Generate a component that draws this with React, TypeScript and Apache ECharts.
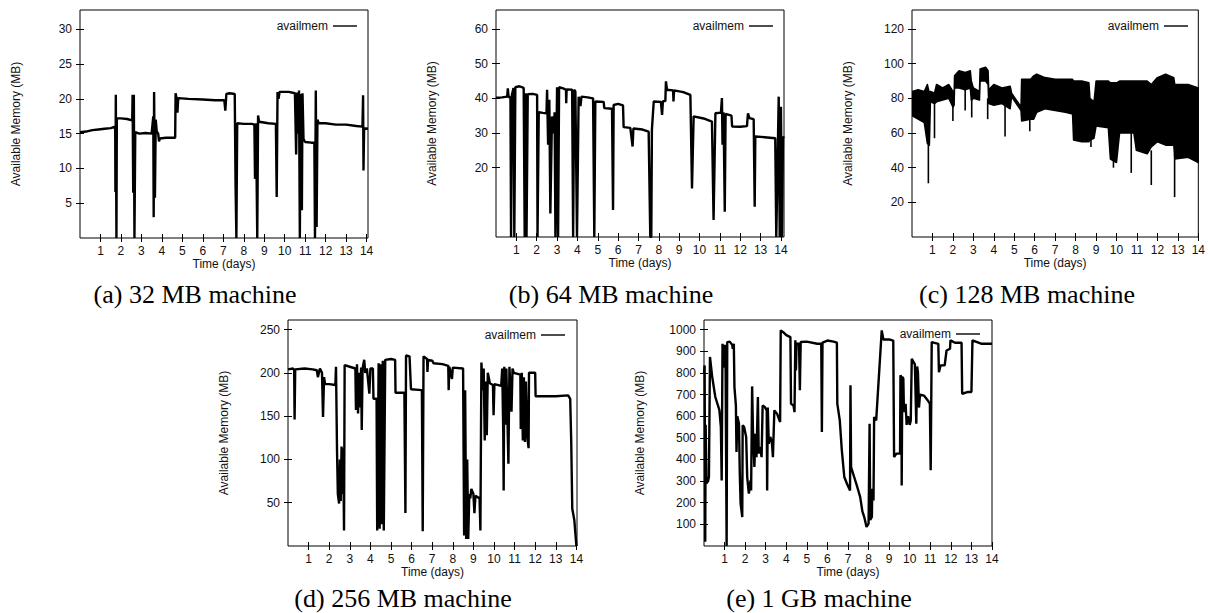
import { useEffect, useRef } from 'react';
import * as echarts from 'echarts';

// ---------- tick labels & captions ----------
const DAY_TICKS = [1, 2, 3, 4, 5, 6, 7, 8, 9, 10, 11, 12, 13, 14];
const Y_TICKS_32 = [5, 10, 15, 20, 25, 30];
const Y_TICKS_64 = [20, 30, 40, 50, 60];
const Y_TICKS_128 = [20, 40, 60, 80, 100, 120];
const Y_TICKS_256 = [50, 100, 150, 200, 250];
const Y_TICKS_1G = [100, 200, 300, 400, 500, 600, 700, 800, 900, 1000];
const CAPTIONS = ['(a) 32 MB machine', '(b) 64 MB machine', '(c) 128 MB machine', '(d) 256 MB machine', '(e) 1 GB machine'];
const SERIES_NAME = 'availmem';
const X_TITLE = 'Time (days)';
const Y_TITLE = 'Available Memory (MB)';

// ---------- data: [day, available MB] ----------
const MEM_32MB: number[][] = [
  [0, 15.2], [0.3, 15.3], [0.6, 15.5], [0.9, 15.6], [1.2, 15.7], [1.5, 15.8], [1.72, 16.0], [1.73, 6.6], [1.75, 20.6], [1.78, 0],
  [1.8, 17.2], [2.0, 17.2], [2.3, 17.1], [2.55, 16.9], [2.57, 20.6], [2.6, 6.5], [2.63, 20.6], [2.66, 0], [2.7, 15.2], [2.9, 15.0],
  [3.2, 15.1], [3.5, 15.0], [3.58, 17.5], [3.6, 3.0], [3.62, 21.0], [3.66, 5.8], [3.7, 17.0], [3.75, 15.3], [3.82, 15.0], [3.86, 13.9],
  [3.9, 14.3], [4.2, 14.4], [4.5, 14.4], [4.65, 14.4], [4.67, 20.8], [4.72, 20.1], [4.76, 18.0], [4.8, 20.1], [5.3, 20.0], [6.0, 19.9],
  [6.6, 19.8], [7.05, 19.8], [7.1, 18.3], [7.15, 20.7], [7.3, 20.8], [7.56, 20.7], [7.6, 7.6], [7.64, 0], [7.68, 16.5], [8.0, 16.4],
  [8.4, 16.4], [8.52, 16.3], [8.55, 8.5], [8.6, 16.5], [8.66, 0], [8.7, 17.6], [8.75, 16.7], [9.2, 16.5], [9.57, 16.4], [9.61, 5.9],
  [9.65, 21.0], [9.7, 20.0], [9.75, 21.0], [10.2, 21.0], [10.5, 20.8], [10.56, 12.0], [10.6, 20.9], [10.65, 15.0], [10.7, 21.2], [10.74, 0],
  [10.78, 20.7], [10.84, 4.0], [10.87, 20.8], [10.92, 14.2], [11.0, 13.8], [11.3, 13.7], [11.45, 13.7], [11.48, 0], [11.52, 21.2], [11.56, 1.6],
  [11.6, 17.0], [11.66, 16.5], [12.0, 16.5], [12.5, 16.3], [13.0, 16.3], [13.5, 16.1], [13.8, 16.0], [13.83, 20.5], [13.85, 9.7], [13.88, 15.8],
  [14.07, 15.7],
];

const MEM_64MB: number[][] = [
  [0, 40.2], [0.3, 40.3], [0.55, 40.5], [0.58, 42.9], [0.62, 40.4], [0.71, 40.3], [0.74, 0], [0.78, 41], [0.86, 43], [0.9, 0],
  [0.95, 43.2], [1.15, 43.5], [1.36, 43.0], [1.41, 0], [1.46, 41.5], [1.5, 0], [1.56, 41.2], [1.8, 41.3], [2.02, 41.0], [2.04, 0],
  [2.07, 0], [2.1, 36.0], [2.3, 35.8], [2.48, 35.7], [2.51, 42.5], [2.56, 26.6], [2.62, 39.6], [2.67, 6.8], [2.75, 34.8], [2.84, 29.9],
  [2.88, 36], [2.92, 0], [3.0, 43.2], [3.05, 0], [3.1, 43.2], [3.3, 42.9], [3.44, 42.5], [3.45, 38.6], [3.47, 42.6], [3.74, 42.5],
  [3.79, 0], [3.84, 42.5], [3.9, 42.0], [3.98, 0], [4.06, 40.5], [4.15, 37.8], [4.2, 40.5], [4.5, 40.3], [4.77, 40.0], [4.83, 0],
  [4.88, 39.1], [5.29, 39.0], [5.32, 37.2], [5.7, 37.0], [5.75, 7.8], [5.78, 38.1], [6.0, 38.4], [6.24, 38.0], [6.27, 31.7], [6.6, 31.5],
  [6.71, 26.1], [6.75, 31.3], [7.2, 31.0], [7.5, 30.4], [7.58, 0], [7.63, 0], [7.66, 30.9], [7.75, 39.1], [8.1, 39.0], [8.16, 35.2],
  [8.2, 39.2], [8.32, 39.2], [8.35, 44.9], [8.4, 42.5], [8.7, 42.3], [8.72, 39.1], [8.75, 42.3], [9.2, 41.8], [9.55, 41.0], [9.63, 14.0],
  [9.71, 34.8], [10.2, 34.2], [10.61, 33.3], [10.69, 4.9], [10.78, 35.7], [11.05, 35.9], [11.1, 40.1], [11.13, 26.6], [11.18, 36], [11.24, 7.3],
  [11.28, 35.5], [11.57, 35.0], [11.6, 31.9], [12.0, 31.8], [12.33, 32.0], [12.38, 35.7], [12.45, 34.3], [12.66, 34.0], [12.71, 8.7], [12.74, 29.0],
  [13.2, 28.8], [13.72, 28.5], [13.77, 0], [13.83, 20], [13.89, 40.5], [13.94, 0], [14.0, 37.6], [14.05, 0], [14.1, 29.0], [14.15, 28.5],
];

// [day, lowest MB, highest MB] envelope of the dense trace
const MEM_128MB_BAND: number[][] = [
  [0.0, 70, 84], [0.3, 68, 85], [0.6, 66, 84], [0.75, 54, 88], [0.85, 53, 83], [0.9, 78, 84], [1.1, 77, 83], [1.2, 78, 88],
  [1.5, 79, 86], [1.8, 80, 88], [2.0, 75, 84], [2.06, 76, 83], [2.08, 86, 93], [2.3, 86, 96], [2.6, 85, 95], [2.85, 86, 96],
  [2.9, 79, 90], [3.0, 80, 86], [3.3, 79, 84], [3.33, 90, 97], [3.6, 90, 98], [3.72, 88, 96], [3.75, 77, 85], [4.0, 76, 88],
  [4.4, 77, 86], [4.8, 74, 87], [4.87, 81, 83], [5.33, 73, 75], [5.36, 67, 91], [5.8, 68, 91], [5.95, 68, 93], [6.1, 72, 94],
  [6.5, 74, 92], [7.0, 73, 91], [7.5, 72, 91], [7.85, 71, 91], [7.9, 56, 90], [8.3, 55, 90], [8.65, 55, 89], [8.7, 56, 80],
  [8.9, 57, 78], [9.0, 64, 90], [9.6, 63, 90], [9.7, 45, 89], [10.0, 43, 89], [10.15, 60, 90], [10.85, 60, 90], [10.97, 50, 90],
  [11.5, 48, 90], [11.7, 52, 88], [12.0, 55, 92], [12.4, 53, 94], [12.8, 53, 92], [12.85, 45, 88], [13.5, 46, 88], [14.0, 43, 86],
];
// [day, spike bottom MB, spike top MB]
const MEM_128MB_SPIKES: number[][] = [
  [0.8, 31, 70], [1.1, 57, 78], [2.0, 67, 78], [2.6, 73, 86], [2.92, 69, 80], [3.7, 68, 80], [4.55, 58, 76], [5.4, 68, 75],
  [5.76, 61, 70], [8.75, 52, 58], [9.85, 40, 48], [10.72, 37, 62], [11.7, 30, 50], [12.84, 23, 48],
];

const MEM_256MB: number[][] = [
  [0, 204], [0.25, 205], [0.3, 203], [0.32, 146], [0.35, 204], [0.8, 205], [1.2, 204], [1.4, 203], [1.45, 195], [1.55, 205],
  [1.65, 200], [1.7, 149], [1.75, 195], [1.8, 187], [2.0, 187], [2.3, 186], [2.33, 207], [2.38, 110], [2.42, 60], [2.48, 49],
  [2.52, 100], [2.56, 52], [2.6, 115], [2.65, 60], [2.68, 113], [2.72, 18], [2.75, 209], [3.0, 207], [3.27, 205], [3.3, 157],
  [3.35, 210], [3.4, 153], [3.45, 200], [3.5, 160], [3.55, 206], [3.58, 134], [3.62, 205], [3.7, 215], [3.75, 200], [3.83, 205],
  [3.95, 176], [4.0, 205], [4.12, 205], [4.15, 170], [4.3, 170], [4.33, 18], [4.4, 211], [4.45, 20], [4.5, 210], [4.55, 25],
  [4.6, 214], [4.65, 18], [4.72, 215], [5.0, 216], [5.2, 215], [5.22, 177], [5.65, 177], [5.7, 38], [5.73, 220], [5.9, 219],
  [5.97, 181], [6.5, 180], [6.54, 17], [6.58, 219], [6.75, 216], [6.77, 201], [6.8, 215], [7.0, 214], [7.07, 211], [7.5, 210],
  [7.78, 208], [7.8, 180], [7.83, 207], [7.96, 193], [8.0, 206], [8.5, 205], [8.55, 12], [8.6, 180], [8.65, 8], [8.7, 100],
  [8.75, 8], [8.8, 60], [8.85, 55], [8.9, 66], [9.0, 60], [9.05, 38], [9.1, 58], [9.3, 55], [9.34, 18], [9.39, 212],
  [9.45, 180], [9.5, 205], [9.55, 122], [9.6, 190], [9.65, 128], [9.7, 200], [9.8, 188], [9.95, 186], [9.98, 151], [10.02, 187],
  [10.35, 185], [10.4, 205], [10.45, 130], [10.47, 64], [10.5, 207], [10.55, 140], [10.6, 205], [10.65, 150], [10.7, 95], [10.75, 207],
  [10.85, 155], [10.9, 205], [10.96, 200], [11.28, 198], [11.3, 135], [11.35, 200], [11.4, 122], [11.45, 195], [11.5, 120], [11.55, 190],
  [11.62, 125], [11.68, 113], [11.7, 200], [12.0, 200], [12.02, 173], [12.5, 173], [13.0, 173], [13.6, 174], [13.7, 170], [13.75, 120],
  [13.8, 43], [13.9, 30], [14.0, 0],
];

const MEM_1GB: number[][] = [
  [0, 800], [0.03, 835], [0.06, 20], [0.08, 560], [0.12, 290], [0.2, 300], [0.24, 320], [0.29, 874], [0.4, 781], [0.55, 689],
  [0.7, 643], [0.75, 627], [0.82, 550], [0.86, 303], [0.9, 935], [0.93, 827], [0.98, 835], [1.02, 930], [1.05, 830], [1.1, 0],
  [1.13, 943], [1.25, 945], [1.37, 930], [1.4, 912], [1.45, 935], [1.48, 735], [1.55, 650], [1.58, 435], [1.62, 600], [1.7, 565],
  [1.74, 334], [1.78, 196], [1.86, 134], [1.88, 558], [1.95, 550], [2.05, 504], [2.1, 319], [2.18, 242], [2.26, 303], [2.29, 257],
  [2.34, 738], [2.38, 535], [2.45, 365], [2.5, 519], [2.55, 411], [2.62, 689], [2.66, 427], [2.72, 458], [2.8, 411], [2.85, 650],
  [2.95, 643], [3.05, 627], [3.07, 257], [3.1, 640], [3.15, 473], [3.22, 504], [3.3, 481], [3.35, 411], [3.42, 627], [3.55, 612],
  [3.7, 573], [3.73, 997], [3.85, 989], [4.0, 975], [4.2, 966], [4.23, 658], [4.35, 650], [4.4, 619], [4.44, 951], [4.47, 812],
  [4.5, 935], [4.62, 935], [4.66, 720], [4.7, 943], [5.0, 945], [5.5, 935], [5.7, 935], [5.73, 527], [5.76, 940], [6.0, 950],
  [6.3, 945], [6.46, 940], [6.48, 658], [6.6, 581], [6.7, 442], [6.82, 319], [6.95, 288], [7.1, 257], [7.12, 743], [7.15, 365],
  [7.3, 319], [7.45, 273], [7.59, 227], [7.7, 160], [7.79, 134], [7.9, 88], [8.0, 103], [8.05, 565], [8.08, 120], [8.16, 134],
  [8.18, 265], [8.24, 211], [8.27, 596], [8.37, 581], [8.64, 997], [8.72, 955], [9.0, 955], [9.2, 950], [9.24, 411], [9.35, 427],
  [9.53, 427], [9.55, 789], [9.6, 781], [9.61, 280], [9.64, 781], [9.69, 775], [9.72, 620], [9.8, 658], [9.85, 560], [9.92, 600],
  [10.0, 560], [10.05, 580], [10.1, 866], [10.25, 840], [10.32, 565], [10.36, 830], [10.4, 804], [10.45, 640], [10.5, 700], [10.7, 695],
  [10.9, 670], [10.98, 658], [11.02, 350], [11.07, 943], [11.39, 935], [11.42, 804], [11.5, 835], [11.7, 835], [11.79, 904], [11.96, 912],
  [11.98, 951], [12.2, 940], [12.52, 940], [12.55, 704], [12.8, 712], [13.0, 712], [13.05, 951], [13.5, 935], [14.0, 935],
];

// ---------- layout (pixels) ----------
type Panel = {
  left: number; top: number; width: number; height: number;
  xMax: number; yMax: number; yTicks: number[];
  caption: string; captionX: number; captionY: number;
  legendRight: number; legendTop: number;
};

const PANELS: Panel[] = [
  { left: 80, top: 10, width: 288, height: 228, xMax: 14.07, yMax: 32.77, yTicks: Y_TICKS_32, caption: CAPTIONS[0], captionX: 195, captionY: 294, legendRight: 851, legendTop: 20 },
  { left: 496, top: 10, width: 288, height: 227, xMax: 14.15, yMax: 65.5, yTicks: Y_TICKS_64, caption: CAPTIONS[1], captionX: 611, captionY: 294, legendRight: 435, legendTop: 20 },
  { left: 912, top: 10, width: 287, height: 227, xMax: 14, yMax: 131, yTicks: Y_TICKS_128, caption: CAPTIONS[2], captionX: 1027, captionY: 294, legendRight: 20, legendTop: 20 },
  { left: 288, top: 320, width: 289, height: 226, xMax: 14.03, yMax: 261, yTicks: Y_TICKS_256, caption: CAPTIONS[3], captionX: 403, captionY: 598, legendRight: 643, legendTop: 329 },
  { left: 704, top: 320, width: 288, height: 226, xMax: 14, yMax: 1045, yTicks: Y_TICKS_1G, caption: CAPTIONS[4], captionX: 819, captionY: 598, legendRight: 228, legendTop: 328 },
];

const TXT = '#111';
const FONT = 'Liberation Sans, Arial, Helvetica, sans-serif';

function buildOption() {
  const grid: any[] = [];
  const xAxis: any[] = [];
  const yAxis: any[] = [];
  const series: any[] = [];
  const legend: any[] = [];
  const graphic: any[] = [];

  const tick = (vals: number[]) => ({ show: true, inside: true, length: 4, customValues: vals, lineStyle: { color: '#000', width: 1 } });
  const plain = (v: number) => String(v);

  PANELS.forEach((p, i) => {
    grid.push({ left: p.left, top: p.top, width: p.width, height: p.height, show: true, borderColor: '#000', borderWidth: 1, backgroundColor: 'transparent', containLabel: false });
    xAxis.push({
      type: 'value', gridIndex: i, min: 0, max: p.xMax, position: 'bottom',
      axisLine: { show: false }, splitLine: { show: false }, axisTick: tick(DAY_TICKS),
      axisLabel: { customValues: DAY_TICKS, formatter: plain, margin: 7, fontSize: 12, color: TXT, fontFamily: FONT },
      name: X_TITLE, nameLocation: 'middle', nameGap: 18, nameTextStyle: { fontSize: 12, color: TXT, fontFamily: FONT },
    });
    xAxis.push({
      type: 'value', gridIndex: i, min: 0, max: p.xMax, position: 'top',
      axisLine: { show: false }, splitLine: { show: false }, axisTick: tick(DAY_TICKS), axisLabel: { show: false },
    });
    yAxis.push({
      type: 'value', gridIndex: i, min: 0, max: p.yMax, position: 'left',
      axisLine: { show: false }, splitLine: { show: false }, axisTick: tick(p.yTicks),
      axisLabel: { customValues: p.yTicks, formatter: plain, margin: 8, fontSize: 12, color: TXT, fontFamily: FONT },
      name: Y_TITLE, nameLocation: 'middle', nameGap: 58, nameRotate: 90, nameTextStyle: { fontSize: 12, color: TXT, fontFamily: FONT },
    });
    yAxis.push({
      type: 'value', gridIndex: i, min: 0, max: p.yMax, position: 'right',
      axisLine: { show: false }, splitLine: { show: false }, axisTick: tick(p.yTicks), axisLabel: { show: false },
    });
    legend.push({
      data: [SERIES_NAME], right: p.legendRight, top: p.legendTop, align: 'right', icon: 'rect',
      itemWidth: 24, itemHeight: 1.4, selectedMode: false, padding: 0,
      textStyle: { fontSize: 12, color: TXT, fontFamily: FONT },
    });
    graphic.push({
      type: 'text', x: p.captionX, y: p.captionY, silent: true,
      style: { text: p.caption, fontSize: 26, fontFamily: 'Liberation Serif, Times New Roman, serif', fill: '#000', align: 'center', verticalAlign: 'middle' },
    });
  });

  const line = (idx: number, data: number[][]) => ({
    type: 'line', name: SERIES_NAME, xAxisIndex: idx * 2, yAxisIndex: idx * 2, data,
    showSymbol: false, symbol: 'none', clip: true, silent: true,
    lineStyle: { color: '#000', width: 2.4 }, itemStyle: { color: '#000' },
  });

  series.push(line(0, MEM_32MB));
  series.push(line(1, MEM_64MB));
  series.push({
    type: 'custom', name: SERIES_NAME + ' range', xAxisIndex: 4, yAxisIndex: 4, data: MEM_128MB_BAND, clip: true, silent: true,
    encode: { x: 0, y: [1, 2] }, itemStyle: { color: '#000' },
    renderItem: (params: any, api: any) => {
      if (params.dataIndex !== 0) return null;
      const upper = MEM_128MB_BAND.map((r) => api.coord([r[0], r[2]]));
      const lower = MEM_128MB_BAND.slice().reverse().map((r) => api.coord([r[0], r[1]]));
      return { type: 'polygon', shape: { points: upper.concat(lower) }, style: { fill: '#000', stroke: '#000', lineWidth: 1.5, lineJoin: 'round' } };
    },
  });
  series.push({
    type: 'custom', name: SERIES_NAME, xAxisIndex: 4, yAxisIndex: 4, data: MEM_128MB_SPIKES, clip: true, silent: true,
    encode: { x: 0, y: [1, 2] }, itemStyle: { color: '#000' },
    renderItem: (_params: any, api: any) => {
      const a = api.coord([api.value(0), api.value(1)]);
      const b = api.coord([api.value(0), api.value(2)]);
      return { type: 'line', shape: { x1: a[0], y1: a[1], x2: b[0], y2: b[1] }, style: { stroke: '#000', lineWidth: 1.6 } };
    },
  });
  series.push(line(3, MEM_256MB));
  series.push(line(4, MEM_1GB));

  return {
    animation: false,
    backgroundColor: '#fff',
    textStyle: { fontFamily: FONT },
    grid, xAxis, yAxis, series, legend, graphic,
  };
}

export default function App() {
  const ref = useRef<HTMLDivElement>(null);
  useEffect(() => {
    if (!ref.current) return;
    const chart = echarts.init(ref.current, null, { renderer: 'svg' });
    chart.setOption(buildOption() as any);
    return () => chart.dispose();
  }, []);
  return <div ref={ref} style={{ position: 'fixed', left: 0, top: 0, width: 1208, height: 613, background: '#fff' }} />;
}
